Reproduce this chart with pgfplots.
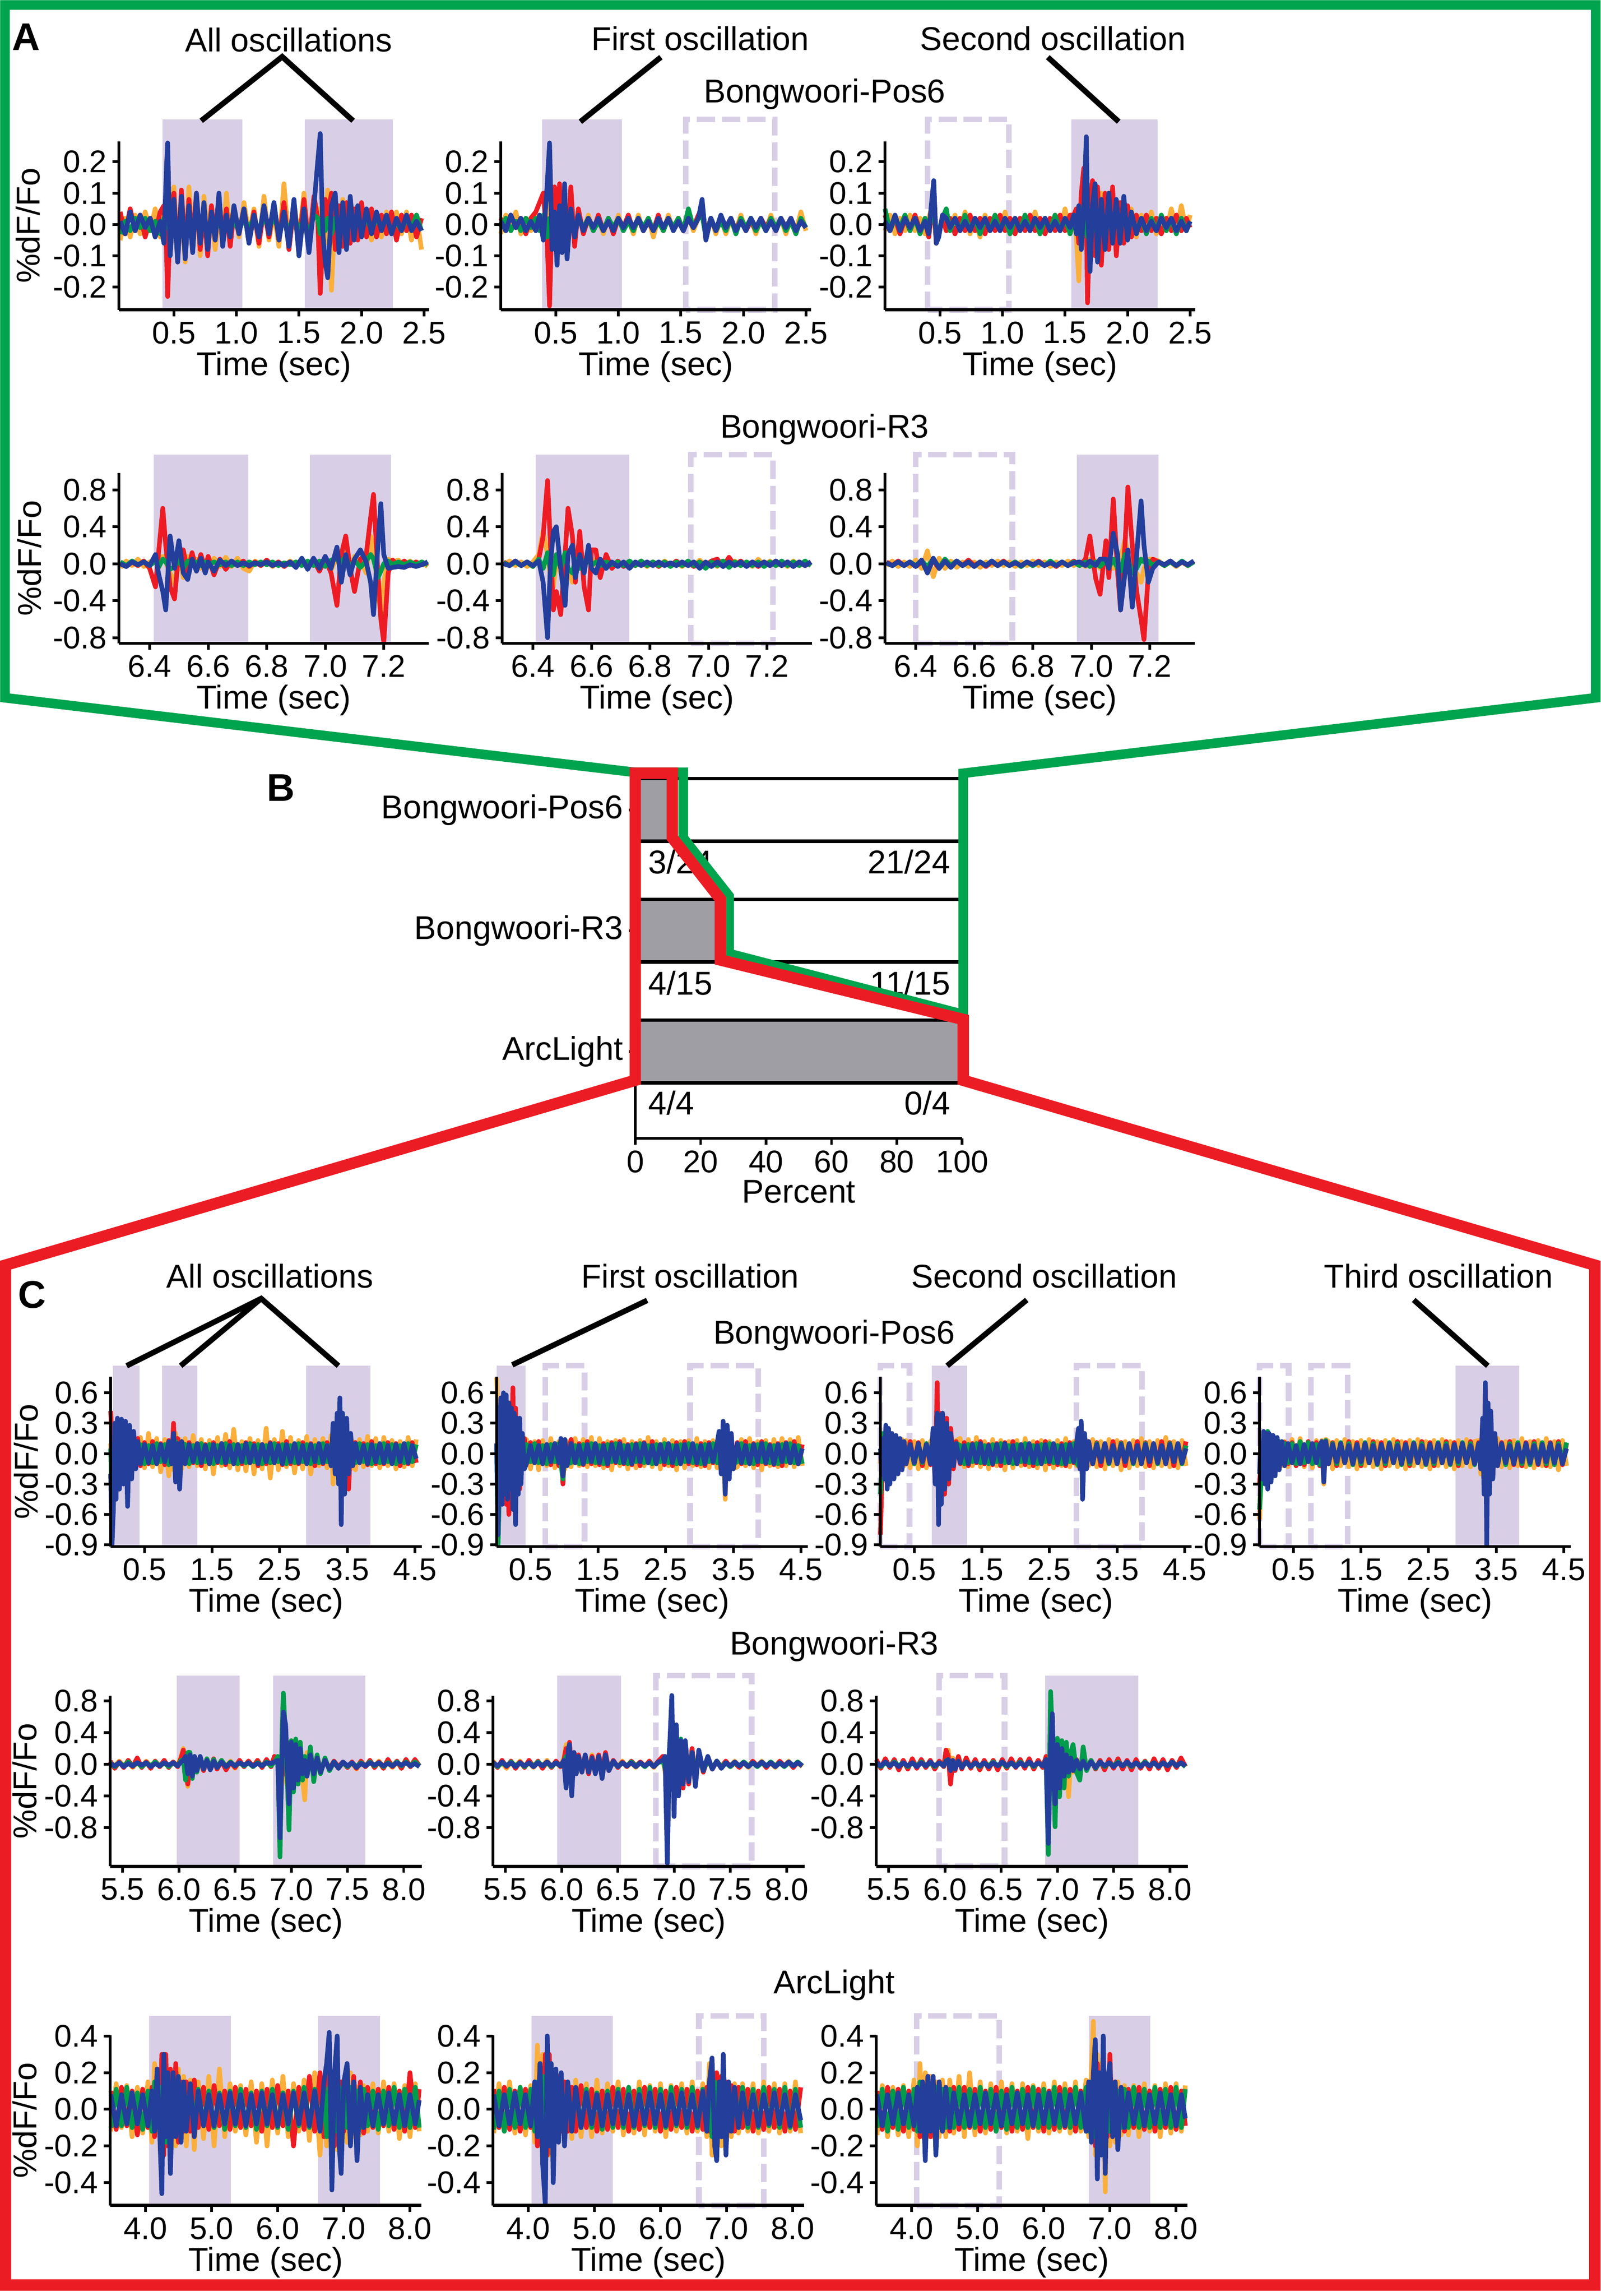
\documentclass[border=0pt]{standalone}
\usepackage{pgfplots}
\pgfplotsset{compat=1.18}
\usepackage{pgfplotstable}
\usepackage{fontspec}
\setmainfont{Liberation Sans}

\definecolor{cR}{RGB}{237,28,36}
\definecolor{cO}{RGB}{250,175,60}
\definecolor{cG}{RGB}{0,155,75}
\definecolor{cB}{RGB}{35,62,155}
\definecolor{shd}{RGB}{216,207,230}
\definecolor{frG}{RGB}{0,163,78}
\definecolor{frR}{RGB}{236,28,36}
\definecolor{barg}{RGB}{158,158,164}

\newcommand\labf{\fontsize{20.5}{23}\selectfont}
\newcommand\tickf{\fontsize{19.5}{22}\selectfont}
\newcommand\panf{\fontsize{24}{26}\selectfont\bfseries}

\pgfplotsset{
  trace/.style={
    scale only axis, axis lines=left,
    axis line style={-, line width=1.9pt},
    tick style={black, line width=1.7pt},
    tick align=outside, major tick length=0.14cm,
    clip=false, axis on top,
    /pgf/number format/assume math mode=true,
    xlabel={Time (sec)},
    tick label style={font=\tickf},
    label style={font=\labf},
    xlabel style={yshift=0.08cm},
    every axis plot/.append style={line width=2.9pt, line join=round, mark=none},
  },
  yl/.style={ylabel={\%dF/Fo}, ylabel style={at={(axis description cs:#1,0.5)}, anchor=center}},
  rowA/.style={trace, width=6.78cm, height=3.68cm,
    xmin=0.06, xmax=2.54, ymin=-0.272, ymax=0.265,
    xtick={0.5,1,1.5,2,2.5}, xticklabels={0.5,1.0,1.5,2.0,2.5},
    ytick={-0.2,-0.1,0,0.1,0.2}, yticklabels={-0.2,-0.1,0.0,0.1,0.2}},
  rowB/.style={trace, width=6.77cm, height=3.72cm,
    xmin=6.295, xmax=7.353, ymin=-0.86, ymax=0.98,
    xtick={6.4,6.6,6.8,7.0,7.2}, xticklabels={6.4,6.6,6.8,7.0,7.2},
    ytick={-0.8,-0.4,0,0.4,0.8}, yticklabels={-0.8,-0.4,0.0,0.4,0.8}},
  rowC/.style={trace, width=6.80cm, height=3.71cm,
    xmin=0, xmax=4.6, ymin=-0.916, ymax=0.758,
    xtick={0.5,1.5,2.5,3.5,4.5}, xticklabels={0.5,1.5,2.5,3.5,4.5},
    ytick={-0.9,-0.6,-0.3,0,0.3,0.6}, yticklabels={-0.9,-0.6,-0.3,0.0,0.3,0.6}},
  rowD/.style={trace, width=6.81cm, height=3.73cm,
    xmin=5.39, xmax=8.16, ymin=-1.29, ymax=0.867,
    xtick={5.5,6,6.5,7,7.5,8}, xticklabels={5.5,6.0,6.5,7.0,7.5,8.0},
    ytick={-0.8,-0.4,0,0.4,0.8}, yticklabels={-0.8,-0.4,0.0,0.4,0.8}},
  rowE/.style={trace, width=6.80cm, height=3.72cm,
    xmin=3.47, xmax=8.17, ymin=-0.524, ymax=0.404,
    xtick={4,5,6,7,8}, xticklabels={4.0,5.0,6.0,7.0,8.0},
    ytick={-0.4,-0.2,0,0.2,0.4}, yticklabels={-0.4,-0.2,0.0,0.2,0.4}},
}

% shaded window, dashed window: x1 x2 ylo yhi
\newcommand\sh[4]{\fill[shd] (axis cs:#1,#3) rectangle (axis cs:#2,#4);}
\newcommand\dsh[4]{\draw[shd, line width=3.5pt, dash pattern=on 0.40cm off 0.15cm] (axis cs:#1,#3) rectangle (axis cs:#2,#4);}
\newcommand\tr[1]{%
  \addplot[cO] table[x=t,y=o]{#1};
  \addplot[cR] table[x=t,y=r]{#1};
  \addplot[cG] table[x=t,y=g]{#1};
  \addplot[cB] table[x=t,y=b]{#1};}

% ---------- panel A, Bongwoori-Pos6 ----------
\pgfplotstableread{
t r o g b
0.07 0.04 -0.05 -0.03 0.01
0.11 -0.03 0.02 0.01 -0.03
0.15 0.05 -0.04 -0.02 0.04
0.19 -0.02 0.03 0.02 -0.02
0.23 0.03 -0.03 -0.01 0.03
0.27 -0.04 0.04 0.02 -0.01
0.31 0.02 -0.02 -0.02 0.02
0.35 -0.03 0.05 0.01 -0.04
0.39 0.04 -0.04 -0.03 0.01
0.42 0.06 0.04 0.02 -0.06
0.44 -0.08 -0.03 -0.01 0.18
0.45 -0.23 0.06 0.04 0.26
0.47 0.02 -0.08 -0.03 -0.10
0.50 0.10 0.12 0.03 0.08
0.53 -0.12 -0.10 -0.04 -0.12
0.56 0.11 0.05 0.02 0.09
0.59 -0.09 -0.12 -0.03 -0.11
0.62 0.08 0.12 0.02 0.06
0.65 -0.06 -0.05 -0.02 -0.09
0.68 0.10 0.08 0.03 0.10
0.71 -0.08 -0.10 -0.02 -0.06
0.74 0.05 0.09 0.02 0.07
0.77 -0.10 -0.04 -0.03 -0.08
0.80 0.06 0.06 0.02 0.04
0.83 -0.05 -0.08 -0.02 -0.05
0.86 0.07 0.04 0.01 0.10
0.89 -0.04 -0.06 -0.02 -0.07
0.92 0.05 0.10 0.02 0.03
0.95 -0.07 -0.05 -0.01 -0.04
0.98 0.04 0.06 0.01 0.06
1.02 -0.03 -0.04 -0.02 -0.03
1.06 0.05 0.07 0.02 0.05
1.10 -0.05 -0.03 -0.01 -0.06
1.14 0.04 0.05 0.02 0.03
1.18 -0.06 -0.07 -0.02 -0.04
1.22 0.05 0.09 0.02 0.06
1.26 -0.04 -0.05 -0.01 -0.03
1.30 0.06 0.04 0.02 0.07
1.34 -0.05 -0.07 -0.02 -0.05
1.38 0.07 0.13 0.02 0.04
1.42 -0.08 -0.06 -0.02 -0.07
1.46 0.06 0.07 0.03 0.08
1.50 -0.06 -0.05 -0.02 -0.10
1.54 0.08 0.10 0.02 0.05
1.58 -0.07 -0.08 -0.03 -0.09
1.62 0.09 0.06 0.03 0.06
1.65 0.02 0.05 0.02 0.20
1.67 -0.22 -0.04 -0.03 0.29
1.69 -0.05 0.03 0.02 -0.02
1.71 0.08 -0.06 -0.02 -0.12
1.73 0.03 0.11 0.02 -0.17
1.76 0.10 -0.21 -0.03 0.06
1.79 -0.08 0.06 0.02 0.10
1.82 0.06 -0.07 -0.02 -0.09
1.85 -0.07 0.08 0.02 0.07
1.88 0.07 -0.06 -0.03 -0.08
1.91 -0.06 0.05 0.02 0.09
1.94 0.05 -0.05 -0.02 -0.05
1.97 -0.05 0.06 0.02 0.06
2.00 0.07 -0.04 -0.01 -0.04
2.04 -0.04 0.04 0.02 0.05
2.08 0.05 -0.05 -0.02 -0.03
2.12 -0.04 0.03 0.02 0.04
2.16 0.03 -0.04 -0.01 -0.02
2.20 -0.03 0.04 0.02 0.03
2.24 0.04 -0.03 -0.02 -0.03
2.28 -0.05 0.04 0.01 0.02
2.32 0.03 -0.03 -0.02 -0.02
2.36 -0.02 0.04 0.02 0.03
2.40 0.03 -0.05 -0.01 -0.02
2.44 -0.04 0.03 0.03 0.01
2.48 0.02 -0.08 -0.02 -0.02
}\dA

\pgfplotstableread{
t r o g b
0.06 0.02 -0.03 -0.01 0.01
0.10 -0.02 0.03 0.02 -0.02
0.14 0.03 -0.02 -0.02 0.03
0.18 -0.01 0.04 0.01 -0.01
0.22 0.02 -0.03 -0.02 0.02
0.26 -0.03 0.02 0.02 -0.02
0.30 0.02 -0.02 -0.01 0.01
0.34 0.04 0.03 0.02 -0.02
0.37 0.07 0.02 -0.02 0.03
0.40 0.10 -0.04 0.03 -0.05
0.43 -0.05 0.09 -0.04 0.12
0.45 -0.26 0.04 0.02 0.26
0.47 0.05 -0.08 -0.03 -0.08
0.49 0.12 0.10 0.03 0.04
0.51 -0.06 -0.06 -0.04 -0.13
0.53 0.13 0.11 0.03 0.06
0.55 -0.08 -0.04 -0.03 -0.09
0.57 0.04 0.07 0.02 0.13
0.59 -0.10 -0.05 -0.02 -0.11
0.62 0.12 0.06 0.02 0.05
0.65 -0.07 -0.03 -0.02 -0.04
0.68 0.05 0.04 0.02 0.03
0.72 -0.03 -0.02 -0.01 -0.02
0.76 0.02 0.03 0.02 0.02
0.80 -0.02 -0.02 -0.02 -0.01
0.84 0.03 0.02 0.01 0.02
0.88 -0.02 -0.03 -0.02 -0.02
0.92 0.02 0.02 0.02 0.01
0.96 -0.03 -0.02 -0.01 -0.02
1.00 0.02 0.03 0.02 0.02
1.04 -0.01 -0.02 -0.02 -0.01
1.08 0.03 0.02 0.01 0.02
1.12 -0.02 -0.03 -0.02 -0.01
1.16 0.02 0.03 0.02 0.02
1.20 -0.02 -0.02 -0.01 -0.02
1.24 0.01 0.02 0.02 0.01
1.28 -0.02 -0.04 -0.02 -0.02
1.32 0.03 0.02 0.01 0.02
1.36 -0.02 -0.02 -0.02 -0.01
1.40 0.02 0.03 0.02 0.02
1.44 -0.01 -0.02 -0.01 -0.02
1.48 0.02 0.02 0.02 0.01
1.52 -0.02 -0.02 -0.02 -0.02
1.56 0.02 0.03 0.05 0.02
1.60 -0.01 -0.02 -0.01 -0.01
1.64 0.03 0.02 0.02 0.02
1.67 0.05 0.04 0.03 0.08
1.70 -0.03 -0.04 -0.04 -0.05
1.74 0.02 0.02 0.02 0.02
1.78 -0.02 -0.03 -0.02 -0.02
1.82 0.02 0.02 0.01 0.03
1.86 -0.01 -0.03 -0.02 -0.01
1.90 0.02 0.02 0.02 0.02
1.94 -0.02 -0.02 -0.03 -0.02
1.98 0.02 0.03 0.02 0.01
2.02 -0.02 -0.02 -0.01 -0.02
2.06 0.01 0.02 0.02 0.02
2.10 -0.02 -0.03 -0.02 -0.01
2.14 0.02 0.02 0.01 0.02
2.18 -0.01 -0.02 -0.02 -0.02
2.22 0.02 0.03 0.02 0.01
2.26 -0.02 -0.02 -0.01 -0.02
2.30 0.02 0.02 0.02 0.02
2.34 -0.01 -0.03 -0.02 -0.01
2.38 0.02 0.02 0.01 0.02
2.42 -0.02 -0.02 -0.03 -0.02
2.46 0.01 0.04 0.02 0.01
2.50 -0.01 -0.02 -0.01 -0.01
}\dB

\pgfplotstableread{
t r o g b
0.06 0.03 -0.02 0.05 0.01
0.10 -0.02 0.03 -0.02 -0.02
0.14 0.02 -0.03 0.02 0.03
0.18 -0.03 0.02 -0.01 -0.02
0.22 0.02 -0.02 0.03 0.02
0.26 -0.02 0.03 -0.02 -0.01
0.30 0.03 -0.02 0.02 0.02
0.34 -0.02 0.02 -0.03 -0.02
0.38 0.01 -0.03 0.02 0.01
0.41 -0.04 0.02 -0.02 -0.03
0.43 0.03 0.05 0.04 0.06
0.45 0.06 0.04 0.05 0.14
0.47 -0.06 -0.05 -0.04 -0.06
0.49 -0.02 -0.03 -0.02 -0.04
0.52 0.02 0.03 0.02 0.03
0.55 -0.02 0.02 0.05 0.02
0.58 0.02 -0.02 -0.02 -0.01
0.62 -0.03 0.03 0.02 0.02
0.66 0.02 -0.02 -0.02 -0.02
0.70 -0.02 0.04 0.03 0.01
0.74 0.03 -0.03 -0.02 -0.02
0.78 -0.02 0.02 0.02 0.02
0.82 0.02 -0.04 -0.03 -0.01
0.86 -0.03 0.03 0.02 0.02
0.90 0.02 -0.02 -0.02 -0.02
0.94 -0.02 0.03 0.03 0.01
0.98 0.03 -0.02 -0.02 -0.02
1.02 -0.02 0.04 0.02 0.02
1.06 0.02 -0.03 -0.03 -0.01
1.10 -0.03 0.02 0.02 0.02
1.14 0.02 -0.02 -0.02 -0.02
1.18 -0.02 0.03 0.03 0.01
1.22 0.03 -0.02 -0.02 -0.02
1.26 -0.02 0.04 0.02 0.02
1.30 0.02 -0.03 -0.03 -0.01
1.34 -0.03 0.02 0.02 0.02
1.38 0.02 -0.02 -0.02 -0.02
1.42 -0.02 0.03 0.03 0.01
1.46 0.03 -0.02 -0.02 -0.02
1.50 -0.02 0.05 0.02 0.02
1.54 0.03 -0.03 -0.03 -0.01
1.57 0.03 0.02 0.02 0.03
1.59 0.05 -0.04 0.03 -0.03
1.61 -0.06 -0.18 -0.03 0.06
1.63 0.10 0.08 0.05 -0.08
1.65 0.18 0.12 0.03 0.05
1.67 0.02 -0.05 -0.02 0.28
1.68 -0.25 -0.10 -0.04 0.05
1.70 0.08 0.10 0.03 -0.15
1.72 0.14 -0.08 -0.02 0.06
1.74 -0.10 0.12 0.04 0.13
1.76 0.12 -0.06 -0.03 -0.12
1.79 -0.13 0.10 0.02 0.08
1.82 0.10 -0.07 -0.04 -0.08
1.85 -0.08 0.08 0.03 0.10
1.88 0.12 -0.05 -0.02 -0.06
1.91 -0.10 0.07 0.03 0.08
1.94 0.07 -0.06 -0.02 -0.06
1.97 -0.06 0.08 0.02 0.09
2.00 0.06 -0.05 -0.02 -0.05
2.03 -0.04 0.05 0.02 0.04
2.07 0.03 -0.04 -0.02 -0.03
2.11 -0.02 0.03 0.02 0.02
2.15 0.03 -0.02 -0.03 -0.02
2.19 -0.02 0.04 0.02 0.01
2.23 0.02 -0.03 -0.02 -0.02
2.27 -0.03 0.02 0.03 0.02
2.31 0.02 -0.02 -0.02 -0.01
2.35 -0.02 0.05 0.02 0.02
2.39 0.03 -0.02 -0.03 -0.02
2.43 -0.02 0.06 0.02 0.01
2.47 0.02 -0.02 -0.02 -0.02
2.50 -0.01 0.03 0.01 0.01
}\dC

% ---------- panel A, Bongwoori-R3 ----------
\pgfplotstableread{
t r o g b
6.30 0.01 -0.04 0.02 0.00
6.32 -0.03 0.03 -0.02 -0.03
6.34 0.02 -0.02 0.03 0.02
6.36 -0.02 0.05 -0.01 -0.01
6.38 0.03 -0.03 0.02 0.02
6.40 -0.05 0.02 -0.02 -0.02
6.42 -0.25 0.04 0.03 0.10
6.43 0.10 -0.05 -0.04 -0.10
6.445 0.60 0.08 0.05 -0.30
6.455 0.20 0.02 0.02 -0.50
6.47 -0.25 -0.10 -0.06 0.30
6.485 -0.38 -0.22 -0.03 -0.05
6.50 0.15 0.10 0.04 0.25
6.515 0.15 -0.15 -0.05 -0.10
6.53 -0.10 0.08 0.03 -0.17
6.545 0.12 -0.02 -0.02 0.05
6.56 -0.08 0.05 0.02 -0.08
6.575 0.10 -0.05 -0.02 0.06
6.59 -0.06 0.03 0.02 -0.10
6.60 0.08 -0.04 -0.02 0.02
6.62 -0.12 0.06 0.02 -0.08
6.64 0.05 -0.03 -0.01 0.04
6.66 -0.06 0.07 0.02 -0.02
6.68 0.03 -0.03 -0.02 0.03
6.70 -0.02 0.06 0.02 -0.02
6.72 0.03 -0.05 -0.02 0.01
6.74 -0.03 -0.08 0.02 -0.02
6.76 0.02 0.03 -0.01 0.01
6.78 -0.02 -0.02 0.02 -0.01
6.80 0.04 0.03 -0.01 0.02
6.82 -0.02 -0.03 0.02 -0.02
6.84 0.02 0.02 -0.02 0.01
6.86 -0.03 -0.02 0.01 -0.02
6.88 0.02 0.03 -0.01 0.02
6.90 -0.02 -0.02 0.02 -0.04
6.92 0.03 0.04 -0.02 0.06
6.94 -0.05 -0.03 0.03 -0.06
6.96 0.04 0.05 -0.02 0.06
6.98 -0.08 -0.04 0.03 -0.05
7.00 0.05 0.06 -0.03 0.08
7.02 -0.10 -0.07 0.04 -0.05
7.04 -0.45 0.08 0.05 0.18
7.055 0.10 -0.10 0.02 -0.20
7.07 0.30 0.12 0.08 0.10
7.085 -0.05 -0.08 -0.05 -0.12
7.10 -0.30 0.08 0.04 0.05
7.12 0.05 0.03 -0.04 0.15
7.14 0.10 -0.10 0.03 0.02
7.155 0.50 0.30 0.10 -0.20
7.165 0.75 0.15 0.05 -0.55
7.18 -0.10 -0.30 -0.15 0.20
7.19 -0.60 -0.55 -0.08 0.65
7.20 -0.85 -0.20 0.00 0.10
7.215 -0.10 0.05 0.03 -0.05
7.23 0.04 0.02 -0.01 -0.04
7.25 -0.02 0.04 0.02 -0.03
7.27 0.03 -0.02 -0.01 -0.04
7.29 -0.02 0.03 0.02 -0.01
7.31 0.02 -0.02 -0.01 -0.03
7.33 -0.01 0.02 0.02 -0.01
7.35 0.01 -0.03 -0.01 0.02
}\dD

\pgfplotstableread{
t r o g b
6.30 0.02 -0.02 0.01 0.00
6.32 -0.02 0.03 -0.02 -0.02
6.34 0.03 -0.02 0.02 0.03
6.36 -0.02 0.02 -0.02 -0.02
6.38 0.02 -0.03 0.02 0.02
6.40 -0.03 0.02 -0.03 -0.02
6.42 0.05 0.10 0.05 0.03
6.435 0.30 0.35 -0.05 -0.20
6.45 0.90 0.10 0.12 -0.80
6.46 0.20 -0.15 -0.08 0.00
6.47 -0.50 -0.25 -0.12 0.35
6.48 -0.30 0.05 0.10 0.40
6.495 -0.55 -0.10 -0.05 -0.05
6.51 0.10 0.10 0.12 -0.45
6.52 0.60 -0.05 -0.05 0.10
6.535 0.30 -0.20 -0.10 0.20
6.545 -0.20 0.15 0.05 -0.15
6.56 0.35 -0.05 -0.05 0.10
6.575 -0.25 0.05 0.03 -0.10
6.59 -0.50 0.10 0.05 0.20
6.60 0.15 -0.05 -0.02 -0.05
6.615 0.15 0.05 0.02 -0.10
6.63 -0.15 -0.03 -0.02 0.05
6.65 0.10 0.03 0.02 -0.05
6.67 -0.05 -0.02 -0.01 0.02
6.69 0.03 0.02 0.02 -0.03
6.71 -0.03 -0.02 -0.02 0.02
6.73 0.02 0.03 0.03 -0.05
6.75 -0.02 -0.02 -0.02 0.02
6.77 0.03 0.02 0.03 -0.02
6.79 -0.02 -0.03 -0.02 0.02
6.81 0.02 0.02 0.02 -0.02
6.83 -0.03 -0.02 -0.02 0.02
6.85 0.02 0.03 0.02 -0.02
6.87 -0.02 -0.02 -0.03 0.01
6.89 0.03 0.02 0.02 -0.02
6.91 -0.02 -0.03 -0.02 0.02
6.93 0.02 0.02 0.03 -0.02
6.95 -0.03 -0.02 -0.02 0.02
6.97 0.02 0.04 0.02 -0.05
6.99 -0.02 -0.02 -0.05 0.02
7.01 0.03 0.02 0.02 -0.03
7.03 0.05 -0.03 -0.02 0.02
7.05 -0.03 0.03 0.03 -0.03
7.07 0.07 -0.02 -0.04 0.02
7.09 -0.02 0.03 0.02 -0.02
7.11 0.03 -0.02 -0.02 0.02
7.13 -0.02 0.02 0.02 -0.03
7.15 0.02 -0.03 -0.02 0.02
7.17 -0.03 0.05 0.02 -0.02
7.19 0.02 -0.02 -0.03 0.02
7.21 -0.02 0.03 0.02 -0.02
7.23 0.03 -0.02 -0.02 0.03
7.25 -0.02 0.02 0.03 -0.02
7.27 0.02 -0.03 -0.02 0.02
7.29 -0.03 0.03 0.02 -0.03
7.31 0.02 -0.02 -0.02 0.02
7.33 -0.02 0.02 0.03 -0.02
7.35 0.02 -0.02 -0.02 0.02
}\dE

\pgfplotstableread{
t r o g b
6.30 0.02 -0.02 0.01 0.01
6.32 -0.02 0.03 -0.02 -0.02
6.34 0.03 -0.03 0.02 0.02
6.36 -0.02 0.02 -0.02 -0.02
6.38 0.02 -0.03 0.02 0.02
6.40 -0.03 0.04 -0.02 -0.03
6.42 0.02 -0.05 0.03 0.04
6.44 -0.04 0.14 -0.03 -0.10
6.46 0.03 -0.14 0.05 0.06
6.48 -0.05 0.06 -0.04 -0.05
6.50 0.04 -0.05 0.05 0.03
6.52 -0.02 0.03 -0.02 -0.04
6.54 0.03 -0.04 0.03 0.03
6.56 -0.02 0.02 -0.02 -0.02
6.58 0.04 -0.03 0.02 0.02
6.60 -0.02 0.02 -0.03 -0.03
6.62 0.02 -0.04 0.02 0.02
6.64 -0.03 0.02 -0.02 -0.02
6.66 0.02 -0.02 0.03 0.03
6.68 -0.02 0.03 -0.02 -0.02
6.70 0.03 -0.02 0.02 0.02
6.72 -0.02 0.02 -0.02 -0.02
6.74 0.02 -0.03 0.02 0.01
6.76 -0.03 0.02 -0.03 -0.02
6.78 0.02 -0.02 0.02 0.02
6.80 -0.02 0.03 -0.02 -0.01
6.82 0.03 -0.02 0.02 0.02
6.84 -0.02 0.02 -0.02 -0.02
6.86 0.02 -0.03 0.03 0.01
6.88 -0.03 0.02 -0.02 -0.02
6.90 0.02 -0.02 0.02 0.02
6.92 -0.02 0.03 -0.02 -0.02
6.94 0.03 -0.02 0.02 0.01
6.96 -0.02 0.02 -0.02 0.02
6.98 0.05 -0.03 0.02 -0.02
6.995 0.30 0.05 -0.03 0.03
7.015 -0.16 0.03 0.02 -0.02
7.03 -0.33 -0.05 -0.03 0.05
7.05 0.25 0.08 0.04 0.05
7.06 -0.15 0.02 -0.04 -0.05
7.075 0.70 -0.05 0.05 0.33
7.09 -0.10 0.10 -0.05 0.10
7.10 -0.50 0.05 -0.08 -0.50
7.115 0.20 0.26 0.10 -0.10
7.125 0.83 0.10 0.05 0.15
7.14 0.20 -0.05 -0.10 -0.47
7.155 -0.30 -0.10 -0.05 0.10
7.17 -0.60 -0.20 0.05 0.68
7.18 -0.82 -0.05 0.02 0.20
7.195 -0.10 0.05 0.03 -0.20
7.21 0.05 0.05 -0.02 -0.05
7.23 0.02 0.03 0.02 0.02
7.25 -0.02 -0.02 -0.02 -0.01
7.27 0.03 0.02 0.02 0.03
7.29 -0.02 -0.03 -0.02 -0.02
7.31 0.02 0.02 0.03 0.02
7.33 -0.02 -0.02 -0.02 -0.01
7.35 0.03 0.03 0.02 0.03
}\dF

% ---------- panel C, Bongwoori-Pos6 ----------
\pgfplotstableread{
t r o g b
0.00 0.42 0.10 0.05 -0.20
0.02 0.15 -0.25 -0.50 -0.90
0.04 -0.10 0.10 -0.30 -0.55
0.06 0.10 -0.10 0.05 0.30
0.08 -0.05 0.05 -0.10 -0.45
0.10 0.15 -0.10 0.12 0.35
0.13 -0.10 0.12 -0.10 -0.35
0.16 0.12 -0.08 0.10 0.34
0.19 -0.08 0.10 -0.08 -0.30
0.22 0.10 -0.12 0.08 0.32
0.25 -0.10 0.08 -0.10 -0.52
0.28 0.08 -0.10 0.10 0.28
0.31 -0.10 0.12 -0.08 -0.25
0.34 0.10 -0.08 0.10 0.22
0.37 -0.08 0.14 -0.10 -0.15
0.40 0.15 -0.10 0.08 0.12
0.44 -0.12 0.16 0.09 -0.10
0.50 0.11 -0.14 -0.10 0.09
0.56 -0.10 0.20 0.08 -0.09
0.62 0.12 -0.13 -0.09 0.08
0.68 -0.09 0.15 0.10 -0.10
0.74 0.10 -0.18 -0.08 0.09
0.80 -0.11 0.14 0.09 -0.08
0.86 0.13 -0.22 -0.11 0.12
0.90 -0.10 0.12 0.08 -0.10
0.93 0.30 -0.16 -0.10 0.20
0.96 -0.25 0.20 0.12 -0.28
0.99 0.15 -0.12 -0.09 0.10
1.02 -0.18 0.14 -0.20 -0.35
1.05 0.12 -0.15 0.10 0.12
1.10 -0.10 0.15 0.09 -0.10
1.16 0.11 -0.13 -0.10 0.09
1.22 -0.09 0.18 0.08 -0.08
1.28 0.10 -0.12 -0.09 0.10
1.34 -0.12 0.14 0.10 -0.09
1.40 0.09 -0.15 -0.08 0.08
1.46 -0.10 0.13 0.09 -0.10
1.52 0.11 -0.20 -0.10 0.09
1.58 -0.09 0.16 0.08 -0.08
1.64 0.10 -0.12 -0.09 0.10
1.70 -0.11 0.19 0.10 -0.09
1.76 0.12 -0.14 -0.08 0.08
1.82 -0.10 0.24 0.09 -0.10
1.88 0.09 -0.16 -0.10 0.09
1.94 -0.10 0.12 0.08 -0.08
2.00 0.11 -0.17 -0.09 0.10
2.06 -0.09 0.15 0.10 -0.09
2.12 0.10 -0.20 -0.08 0.08
2.18 -0.12 0.13 0.09 -0.10
2.24 0.09 -0.15 -0.10 0.09
2.30 -0.10 0.25 0.08 -0.08
2.36 0.11 -0.24 -0.09 0.10
2.42 -0.09 0.14 0.10 -0.09
2.48 0.10 -0.16 -0.08 0.08
2.54 -0.11 0.22 0.09 -0.10
2.60 0.12 -0.13 -0.10 0.09
2.66 -0.10 0.16 0.08 -0.08
2.72 0.09 -0.19 -0.09 0.10
2.78 -0.10 0.13 0.10 -0.09
2.84 0.11 -0.15 -0.08 0.08
2.90 -0.09 0.17 0.09 -0.10
2.96 0.10 -0.20 -0.10 0.09
3.02 -0.12 0.14 0.08 -0.08
3.08 0.09 -0.12 -0.09 0.10
3.14 -0.10 0.15 0.10 -0.09
3.20 0.11 -0.14 -0.08 0.08
3.26 -0.12 0.18 0.09 -0.12
3.29 0.20 -0.30 -0.10 0.30
3.32 -0.18 0.20 0.12 -0.20
3.35 0.15 -0.12 -0.10 0.40
3.37 -0.20 0.10 0.08 -0.30
3.39 0.25 -0.15 -0.12 0.55
3.41 -0.15 0.20 0.10 -0.70
3.43 0.20 -0.10 -0.09 0.40
3.46 -0.18 0.15 0.10 -0.40
3.49 0.30 -0.12 -0.08 0.35
3.52 -0.35 0.14 0.09 -0.20
3.55 0.15 -0.15 -0.10 0.20
3.58 -0.12 0.12 0.08 -0.12
3.62 0.11 -0.16 -0.09 0.10
3.68 -0.09 0.14 0.10 -0.09
3.74 0.10 -0.13 -0.08 0.08
3.80 -0.11 0.17 0.09 -0.10
3.86 0.12 -0.12 -0.10 0.09
3.92 -0.10 0.15 0.08 -0.08
3.98 0.09 -0.14 -0.09 0.10
4.04 -0.10 0.16 0.10 -0.09
4.10 0.11 -0.12 -0.08 0.08
4.16 -0.09 0.13 0.09 -0.10
4.22 0.10 -0.15 -0.10 0.09
4.28 -0.12 0.12 0.08 -0.08
4.34 0.09 -0.13 -0.09 0.10
4.40 -0.10 0.16 0.10 -0.09
4.46 0.11 -0.12 -0.08 0.08
4.52 -0.09 0.14 0.09 -0.05
}\dG

\pgfplotstableread{
t r o g b
0.00 0.10 0.75 0.05 0.10
0.02 -0.20 0.40 -0.90 -0.80
0.04 0.30 -0.30 -0.40 0.20
0.06 -0.40 0.20 0.30 0.55
0.08 0.20 -0.20 -0.30 -0.50
0.10 -0.30 0.30 0.20 0.60
0.12 0.40 -0.35 -0.25 -0.40
0.14 -0.50 0.25 0.20 0.58
0.16 0.45 -0.30 -0.20 -0.45
0.18 -0.60 0.20 0.25 0.50
0.20 0.50 -0.25 -0.20 -0.35
0.22 -0.40 0.25 0.15 0.45
0.24 0.65 -0.20 -0.15 -0.55
0.26 -0.55 0.20 0.15 0.40
0.28 0.45 -0.18 -0.12 -0.70
0.30 -0.30 0.15 0.12 0.35
0.32 0.30 -0.15 -0.10 -0.40
0.34 -0.35 0.12 0.10 0.35
0.36 0.20 -0.12 -0.10 -0.30
0.38 -0.15 0.10 0.08 0.20
0.41 0.15 -0.12 -0.10 -0.15
0.44 -0.10 0.14 0.09 -0.10
0.50 0.11 -0.15 -0.08 0.08
0.56 -0.09 0.12 0.10 -0.09
0.62 0.12 -0.16 -0.09 0.08
0.68 -0.10 0.13 0.08 -0.10
0.74 0.09 -0.12 -0.10 0.09
0.80 -0.11 0.15 0.09 -0.08
0.86 0.10 -0.14 -0.08 0.10
0.92 -0.12 0.12 0.10 -0.09
0.95 0.12 -0.10 -0.10 0.15
0.98 -0.30 0.12 -0.25 -0.22
1.01 0.12 -0.15 0.12 0.14
1.04 -0.10 0.12 -0.10 -0.12
1.10 0.14 -0.13 -0.09 0.10
1.16 -0.09 0.15 0.08 -0.09
1.22 0.10 -0.12 -0.10 0.08
1.28 -0.11 0.14 0.09 -0.10
1.34 0.12 -0.13 -0.08 0.09
1.40 -0.10 0.16 0.10 -0.08
1.46 0.09 -0.12 -0.09 0.10
1.52 -0.11 0.15 0.08 -0.09
1.58 0.10 -0.14 -0.10 0.08
1.64 -0.12 0.12 0.09 -0.10
1.70 0.11 -0.16 -0.08 0.09
1.76 -0.09 0.13 0.10 -0.08
1.82 0.12 -0.12 -0.09 0.10
1.88 -0.10 0.14 0.08 -0.09
1.94 0.09 -0.15 -0.10 0.08
2.00 -0.11 0.12 0.09 -0.10
2.06 0.10 -0.14 -0.08 0.09
2.12 -0.12 0.13 0.10 -0.08
2.18 0.11 -0.12 -0.09 0.10
2.24 -0.09 0.16 0.08 -0.09
2.30 0.12 -0.13 -0.10 0.08
2.36 -0.10 0.12 0.09 -0.10
2.42 0.09 -0.15 -0.08 0.09
2.48 -0.11 0.14 0.10 -0.08
2.54 0.10 -0.12 -0.09 0.10
2.60 -0.12 0.13 0.08 -0.09
2.66 0.11 -0.16 -0.10 0.08
2.72 -0.09 0.12 0.09 -0.10
2.78 0.12 -0.14 -0.08 0.09
2.84 -0.10 0.13 0.10 -0.08
2.90 0.09 -0.12 -0.09 0.10
2.96 -0.11 0.15 0.08 -0.09
3.02 0.10 -0.13 -0.10 0.08
3.08 -0.12 0.12 0.09 -0.10
3.14 0.11 -0.14 -0.08 0.09
3.20 -0.09 0.13 0.10 -0.08
3.26 0.10 -0.14 -0.09 0.10
3.29 0.14 0.12 0.10 0.22
3.32 -0.15 -0.18 -0.12 -0.20
3.35 0.18 0.14 0.10 0.32
3.38 -0.20 -0.45 -0.15 -0.40
3.41 0.20 0.15 0.12 0.28
3.44 -0.15 -0.12 -0.10 -0.25
3.47 0.18 0.14 0.09 0.20
3.50 -0.12 -0.15 -0.10 -0.15
3.56 0.11 -0.13 -0.08 0.10
3.62 -0.10 0.14 0.10 -0.09
3.68 0.12 -0.12 -0.09 0.08
3.74 -0.09 0.15 0.08 -0.10
3.80 0.10 -0.14 -0.10 0.09
3.86 -0.11 0.12 0.09 -0.08
3.92 0.12 -0.16 -0.08 0.10
3.98 -0.10 0.13 0.10 -0.09
4.04 0.09 -0.12 -0.09 0.08
4.10 -0.11 0.14 0.08 -0.10
4.16 0.10 -0.13 -0.10 0.09
4.22 -0.12 0.15 0.09 -0.08
4.28 0.11 -0.12 -0.08 0.10
4.34 -0.09 0.14 0.10 -0.09
4.40 0.12 -0.13 -0.09 0.08
4.46 -0.10 0.16 0.08 -0.10
4.52 0.09 -0.12 -0.10 0.05
}\dH

\pgfplotstableread{
t r o g b
0.00 -0.80 -0.10 -0.40 0.05
0.02 -0.30 0.10 -0.10 -0.20
0.04 0.10 -0.05 0.20 0.15
0.06 -0.10 0.20 -0.10 -0.25
0.08 0.20 -0.10 0.25 0.28
0.10 -0.15 0.15 -0.15 -0.35
0.12 0.15 -0.12 0.20 0.25
0.14 -0.20 0.12 -0.15 -0.30
0.17 0.18 -0.10 0.15 0.20
0.20 -0.15 0.10 -0.12 -0.25
0.23 0.14 -0.12 0.12 0.18
0.26 -0.12 0.15 -0.10 -0.20
0.29 0.12 -0.12 0.10 0.15
0.32 -0.12 0.14 -0.10 -0.16
0.35 0.11 -0.12 0.09 0.12
0.38 -0.10 0.13 -0.08 -0.10
0.44 0.12 -0.14 0.09 0.09
0.50 -0.10 0.12 -0.10 -0.09
0.56 0.11 -0.15 0.08 0.10
0.62 -0.12 0.13 -0.09 -0.08
0.68 0.10 -0.14 0.10 0.09
0.74 -0.11 0.12 -0.08 -0.10
0.78 0.20 0.15 0.12 0.25
0.81 -0.25 -0.18 -0.15 -0.30
0.84 0.70 0.20 0.15 0.40
0.86 -0.30 -0.25 -0.20 -0.70
0.88 0.40 0.25 0.12 0.38
0.90 -0.35 -0.20 -0.15 -0.50
0.92 0.30 0.15 0.10 0.40
0.95 -0.40 -0.20 -0.12 -0.35
0.98 0.35 0.15 0.10 0.30
1.01 -0.30 -0.15 -0.12 -0.25
1.04 0.25 0.12 0.10 0.20
1.08 -0.15 -0.14 -0.09 -0.12
1.12 0.12 0.13 0.10 0.10
1.18 -0.10 0.15 0.08 -0.09
1.24 0.11 -0.13 -0.10 0.08
1.30 -0.12 0.14 0.09 -0.10
1.36 0.10 -0.12 -0.08 0.09
1.42 -0.09 0.16 0.10 -0.08
1.48 0.12 -0.13 -0.09 0.10
1.54 -0.10 0.12 0.08 -0.09
1.60 0.09 -0.15 -0.10 0.08
1.66 -0.11 0.14 0.09 -0.10
1.72 0.10 -0.12 -0.08 0.09
1.78 -0.12 0.13 0.10 -0.08
1.84 0.11 -0.16 -0.09 0.10
1.90 -0.09 0.12 0.08 -0.09
1.96 0.12 -0.14 -0.10 0.08
2.02 -0.10 0.13 0.09 -0.10
2.08 0.09 -0.12 -0.08 0.09
2.14 -0.11 0.15 0.10 -0.08
2.20 0.10 -0.13 -0.09 0.10
2.26 -0.12 0.12 0.08 -0.09
2.32 0.11 -0.14 -0.10 0.08
2.38 -0.09 0.13 0.09 -0.10
2.44 0.12 -0.16 -0.08 0.09
2.50 -0.10 0.12 0.10 -0.08
2.56 0.09 -0.14 -0.09 0.10
2.62 -0.11 0.13 0.08 -0.09
2.68 0.10 -0.12 -0.10 0.08
2.74 -0.12 0.15 0.09 -0.10
2.80 0.11 -0.13 -0.08 0.09
2.86 -0.09 0.12 0.10 -0.08
2.90 0.10 -0.12 -0.09 0.10
2.93 0.15 -0.12 -0.12 0.25
2.95 -0.12 0.14 0.10 -0.15
2.97 0.20 -0.15 -0.15 0.32
2.99 -0.20 0.15 -0.18 -0.45
3.02 0.15 -0.12 0.10 0.20
3.05 -0.12 0.13 -0.10 -0.15
3.08 0.12 -0.12 0.09 0.12
3.14 -0.10 0.14 -0.09 -0.10
3.20 0.11 -0.13 0.10 0.09
3.26 -0.12 0.12 -0.08 -0.08
3.32 0.10 -0.15 0.09 0.10
3.38 -0.09 0.14 -0.10 -0.09
3.44 0.12 -0.12 0.08 0.08
3.50 -0.10 0.13 -0.09 -0.10
3.56 0.11 -0.16 0.10 0.09
3.62 -0.12 0.12 -0.08 -0.08
3.68 0.10 -0.14 0.09 0.10
3.74 -0.09 0.13 -0.10 -0.09
3.80 0.12 -0.12 0.08 0.08
3.86 -0.10 0.15 -0.09 -0.10
3.92 0.11 -0.13 0.10 0.09
3.98 -0.12 0.12 -0.08 -0.08
4.04 0.10 -0.14 0.09 0.10
4.10 -0.09 0.13 -0.10 -0.09
4.16 0.12 -0.12 0.08 0.08
4.22 -0.10 0.16 -0.09 -0.10
4.28 0.11 -0.13 0.10 0.09
4.34 -0.12 0.12 -0.08 -0.08
4.40 0.10 -0.14 0.09 0.10
4.46 -0.09 0.13 -0.10 -0.09
4.52 0.12 -0.12 0.08 0.05
}\dI

\pgfplotstableread{
t r o g b
0.00 -0.30 -0.65 -0.55 -0.20
0.02 -0.10 -0.20 -0.30 0.10
0.04 0.10 0.10 0.10 -0.25
0.06 -0.10 -0.10 -0.10 0.22
0.08 0.15 0.15 0.20 -0.30
0.10 -0.12 -0.12 -0.10 0.20
0.12 0.18 0.12 0.22 -0.35
0.14 -0.12 -0.14 -0.10 0.20
0.17 0.15 0.12 0.18 -0.28
0.20 -0.12 -0.12 -0.10 0.18
0.23 0.12 0.12 0.14 -0.22
0.26 -0.12 -0.12 -0.10 0.16
0.29 0.12 0.12 0.12 -0.16
0.33 -0.10 -0.12 -0.09 0.12
0.37 0.11 0.12 0.10 -0.12
0.42 -0.10 -0.13 -0.09 0.10
0.48 0.11 0.14 0.10 -0.09
0.54 -0.12 -0.12 -0.10 0.08
0.60 0.10 0.15 0.12 -0.10
0.66 -0.11 -0.13 -0.09 0.09
0.72 0.12 0.12 0.11 -0.08
0.78 -0.10 -0.14 -0.10 0.10
0.84 0.11 0.13 0.09 -0.09
0.89 -0.12 -0.12 -0.11 0.08
0.92 0.11 0.13 0.12 0.12
0.95 -0.15 -0.30 -0.14 -0.28
0.98 0.12 0.14 0.13 0.12
1.02 -0.10 0.12 -0.09 -0.10
1.08 0.11 -0.15 0.10 0.09
1.14 -0.12 0.13 -0.10 -0.08
1.20 0.10 -0.12 0.11 0.10
1.26 -0.09 0.14 -0.09 -0.09
1.32 0.12 -0.13 0.10 0.08
1.38 -0.10 0.12 -0.11 -0.10
1.44 0.11 -0.15 0.09 0.09
1.50 -0.12 0.13 -0.10 -0.08
1.56 0.10 -0.12 0.11 0.10
1.62 -0.09 0.14 -0.09 -0.09
1.68 0.12 -0.13 0.10 0.08
1.74 -0.10 0.12 -0.11 -0.10
1.80 0.11 -0.15 0.09 0.09
1.86 -0.12 0.13 -0.10 -0.08
1.92 0.10 -0.12 0.11 0.10
1.98 -0.09 0.14 -0.09 -0.09
2.04 0.12 -0.13 0.10 0.08
2.10 -0.10 0.12 -0.11 -0.10
2.16 0.11 -0.15 0.09 0.09
2.22 -0.12 0.13 -0.10 -0.08
2.28 0.10 -0.12 0.11 0.10
2.34 -0.09 0.14 -0.09 -0.09
2.40 0.12 -0.13 0.10 0.08
2.46 -0.10 0.12 -0.11 -0.10
2.52 0.11 -0.15 0.09 0.09
2.58 -0.12 0.13 -0.10 -0.08
2.64 0.10 -0.12 0.11 0.10
2.70 -0.09 0.14 -0.09 -0.09
2.76 0.12 -0.13 0.10 0.08
2.82 -0.10 0.12 -0.11 -0.10
2.88 0.11 -0.15 0.09 0.09
2.94 -0.12 0.13 -0.10 -0.08
3.00 0.10 -0.12 0.11 0.10
3.06 -0.09 0.14 -0.09 -0.09
3.12 0.12 -0.13 0.10 0.08
3.18 -0.10 0.12 -0.11 -0.10
3.24 0.11 0.13 0.10 0.10
3.27 -0.14 -0.20 -0.12 -0.15
3.30 0.30 0.25 0.15 0.35
3.32 -0.25 -0.30 -0.20 -0.40
3.34 0.65 0.40 0.20 0.70
3.36 -0.40 -0.45 -0.25 -0.90
3.38 0.45 0.30 0.20 0.50
3.40 -0.30 -0.25 -0.15 -0.40
3.42 0.25 0.20 0.15 0.42
3.45 -0.20 -0.20 -0.12 -0.25
3.48 0.18 0.15 0.10 0.20
3.52 -0.12 0.15 -0.10 -0.12
3.58 0.11 -0.13 0.09 0.10
3.64 -0.10 0.12 -0.11 -0.09
3.70 0.12 -0.14 0.10 0.08
3.76 -0.11 0.13 -0.09 -0.10
3.82 0.10 -0.12 0.11 0.09
3.88 -0.12 0.15 -0.10 -0.08
3.94 0.11 -0.13 0.09 0.10
4.00 -0.10 0.12 -0.11 -0.09
4.06 0.12 -0.14 0.10 0.08
4.12 -0.11 0.13 -0.09 -0.10
4.18 0.10 -0.12 0.11 0.09
4.24 -0.12 0.15 -0.10 -0.08
4.30 0.11 -0.13 0.09 0.10
4.36 -0.10 0.12 -0.11 -0.09
4.42 0.12 -0.16 0.10 0.08
4.48 -0.11 0.13 -0.09 -0.10
4.54 0.10 -0.12 0.11 0.05
}\dJ

% ---------- panel C, Bongwoori-R3 ----------
\pgfplotstableread{
t r o g b
5.39 0.04 0.03 0.02 0.01
5.43 -0.05 -0.02 -0.03 -0.02
5.47 0.03 0.04 0.02 0.02
5.51 -0.04 -0.02 -0.02 -0.03
5.55 0.05 0.03 0.03 0.01
5.59 -0.03 -0.04 -0.02 -0.02
5.63 0.08 0.02 0.02 0.02
5.67 -0.04 -0.03 -0.03 -0.01
5.71 0.03 0.04 0.02 0.02
5.75 -0.05 -0.02 -0.02 -0.03
5.79 0.04 0.03 0.03 0.01
5.83 -0.03 -0.03 -0.02 -0.02
5.87 0.05 0.02 0.02 0.02
5.91 -0.04 -0.03 -0.03 -0.01
5.95 0.03 0.03 0.02 0.02
5.99 -0.03 -0.02 -0.02 -0.02
6.02 0.08 0.10 0.05 0.03
6.04 0.18 0.20 0.06 0.05
6.06 -0.10 -0.10 -0.20 0.10
6.08 -0.25 -0.28 0.15 -0.12
6.10 0.05 0.08 0.15 0.12
6.12 -0.05 -0.05 -0.18 -0.15
6.14 0.08 0.10 0.10 0.10
6.16 -0.06 -0.05 -0.10 -0.08
6.19 0.05 0.07 0.08 0.10
6.22 -0.08 -0.04 -0.06 -0.06
6.25 0.06 0.05 0.07 0.05
6.28 -0.05 -0.06 -0.05 -0.07
6.31 0.07 0.04 0.06 0.04
6.34 -0.06 -0.05 -0.04 -0.04
6.38 0.04 0.05 0.05 0.03
6.42 -0.07 -0.03 -0.03 -0.03
6.46 0.03 0.04 0.03 0.02
6.50 -0.04 -0.05 -0.02 -0.02
6.54 0.05 0.03 0.02 0.02
6.58 -0.03 -0.02 -0.02 -0.01
6.62 0.04 0.04 0.02 0.02
6.66 -0.03 -0.02 -0.03 -0.02
6.70 0.05 0.03 0.02 0.01
6.74 -0.04 -0.03 -0.02 -0.02
6.78 0.06 0.03 0.03 0.02
6.82 -0.03 -0.02 -0.02 0.01
6.85 0.10 0.05 0.03 0.03
6.88 0.05 0.06 0.10 0.05
6.90 -0.20 -0.40 -1.17 -0.93
6.92 0.20 0.30 0.50 0.20
6.93 0.30 0.20 0.90 0.66
6.95 -0.10 -0.20 0.30 0.50
6.97 -0.20 -0.30 -0.40 -0.20
6.98 -0.30 -0.40 -0.83 -0.50
7.00 0.25 0.30 0.30 0.28
7.02 -0.20 -0.25 -0.35 -0.30
7.04 0.30 0.25 0.32 0.25
7.06 -0.20 -0.20 -0.25 -0.20
7.08 0.15 0.28 0.28 0.20
7.10 -0.10 -0.20 -0.20 -0.12
7.12 0.05 -0.45 0.10 0.05
7.14 -0.10 0.15 -0.15 -0.15
7.17 0.15 0.10 0.22 0.12
7.20 -0.12 -0.10 -0.22 -0.12
7.23 0.10 0.06 0.12 0.08
7.26 -0.08 -0.08 -0.12 -0.10
7.30 0.06 0.05 0.08 0.05
7.34 -0.06 -0.05 -0.08 -0.06
7.38 0.04 0.03 0.03 0.03
7.42 -0.03 -0.05 -0.04 -0.05
7.46 0.03 0.02 0.02 0.03
7.50 -0.04 -0.03 -0.03 -0.02
7.54 0.03 0.02 0.02 0.02
7.58 -0.05 -0.06 -0.03 -0.04
7.62 0.04 0.02 0.02 0.01
7.66 -0.03 -0.03 -0.02 -0.02
7.70 0.05 0.03 0.03 0.02
7.74 -0.04 -0.02 -0.02 -0.01
7.78 0.03 0.04 0.02 0.02
7.82 -0.05 -0.03 -0.03 -0.02
7.86 0.06 0.02 0.02 0.01
7.90 -0.03 -0.04 -0.02 -0.02
7.94 0.04 0.03 0.03 0.02
7.98 -0.05 -0.02 -0.02 -0.01
8.02 0.06 0.05 0.03 0.02
8.06 -0.03 -0.03 -0.02 -0.02
8.10 0.06 0.03 0.03 0.01
8.14 -0.02 -0.02 -0.02 -0.03
}\dK

\pgfplotstableread{
t r o g b
5.39 0.03 0.04 0.02 0.02
5.43 -0.04 -0.03 -0.03 -0.02
5.47 0.05 0.02 0.02 0.03
5.51 -0.03 -0.05 -0.02 -0.02
5.55 0.04 0.03 0.03 0.02
5.59 -0.05 -0.02 -0.02 -0.03
5.63 0.03 0.04 0.02 0.02
5.67 -0.04 -0.03 -0.03 -0.02
5.71 0.05 0.02 0.02 0.02
5.75 -0.03 -0.04 -0.02 -0.03
5.79 0.04 0.03 0.03 0.02
5.83 -0.05 -0.02 -0.02 -0.02
5.87 0.03 0.05 0.02 0.03
5.91 -0.04 -0.03 -0.03 -0.02
5.95 0.04 0.02 0.02 0.02
5.99 -0.03 -0.03 -0.02 -0.02
6.02 0.05 0.08 0.03 0.05
6.04 0.20 0.25 0.10 -0.30
6.06 -0.10 -0.10 -0.05 0.20
6.07 0.28 0.15 0.10 0.25
6.09 -0.15 -0.12 -0.10 -0.40
6.11 0.15 0.10 0.08 0.15
6.13 -0.10 -0.12 -0.08 -0.12
6.15 0.12 0.10 0.08 0.10
6.18 -0.08 -0.10 -0.06 -0.10
6.21 0.10 0.08 0.08 0.12
6.24 -0.12 -0.08 -0.06 -0.10
6.27 0.10 0.12 0.05 0.08
6.30 -0.08 -0.10 -0.05 -0.12
6.33 0.12 0.08 0.06 0.10
6.36 -0.10 -0.12 -0.05 -0.18
6.39 0.15 0.06 0.05 0.12
6.42 -0.08 -0.06 -0.04 -0.08
6.46 0.05 0.04 0.03 0.04
6.50 -0.04 -0.03 -0.03 -0.03
6.54 0.03 0.04 0.02 0.02
6.58 -0.03 -0.03 -0.02 -0.02
6.62 0.04 0.02 0.03 0.02
6.66 -0.02 -0.04 -0.02 -0.03
6.70 0.03 0.03 0.02 0.02
6.74 -0.03 -0.02 -0.03 -0.02
6.78 0.04 0.03 0.02 0.02
6.82 -0.03 -0.04 -0.02 -0.03
6.86 0.04 0.03 0.02 0.03
6.90 0.10 0.08 0.05 0.05
6.92 -0.05 -0.10 -0.05 0.10
6.94 -0.20 -0.20 -0.20 -1.25
6.96 0.20 0.15 0.20 0.20
6.98 0.30 0.20 0.30 0.87
7.00 -0.25 -0.20 -0.30 -0.66
7.02 0.30 0.25 0.25 0.50
7.04 -0.35 -0.30 -0.30 -0.40
7.06 0.25 0.30 0.32 0.30
7.08 -0.30 -0.20 -0.20 -0.25
7.10 0.20 0.25 0.20 0.30
7.13 -0.25 -0.20 -0.15 -0.22
7.16 0.20 0.18 0.15 0.15
7.19 -0.15 -0.15 -0.12 -0.28
7.22 0.12 0.10 0.10 0.18
7.26 -0.10 -0.08 -0.08 -0.08
7.30 0.08 0.06 0.06 0.10
7.34 -0.06 -0.05 -0.05 -0.06
7.38 0.04 0.04 0.04 0.04
7.42 -0.03 -0.04 -0.03 -0.05
7.46 0.04 0.03 0.02 0.02
7.50 -0.03 -0.02 -0.03 -0.02
7.54 0.02 0.04 0.02 0.03
7.58 -0.04 -0.03 -0.02 -0.02
7.62 0.03 0.02 0.03 0.02
7.66 -0.03 -0.04 -0.02 -0.03
7.70 0.04 0.03 0.02 0.02
7.74 -0.02 -0.02 -0.03 -0.02
7.78 0.03 0.04 0.02 0.03
7.82 -0.04 -0.03 -0.02 -0.02
7.86 0.03 0.02 0.03 0.02
7.90 -0.03 -0.04 -0.02 -0.03
7.94 0.04 0.03 0.02 0.02
7.98 -0.02 -0.02 -0.03 -0.02
8.02 0.03 0.04 0.02 0.03
8.06 -0.04 -0.03 -0.02 -0.02
8.10 0.03 0.02 0.03 0.02
8.14 -0.02 -0.03 -0.02 -0.02
}\dL

\pgfplotstableread{
t r o g b
5.39 0.06 0.03 0.02 0.02
5.43 -0.05 -0.03 -0.03 -0.02
5.47 0.07 0.04 0.02 0.03
5.51 -0.04 -0.02 -0.02 -0.02
5.55 0.06 0.03 0.03 0.02
5.59 -0.07 -0.04 -0.02 -0.03
5.63 0.05 0.02 0.02 0.02
5.67 -0.06 -0.03 -0.03 -0.02
5.71 0.07 0.04 0.02 0.02
5.75 -0.05 -0.02 -0.02 -0.03
5.79 0.06 0.03 0.03 0.02
5.83 -0.04 -0.03 -0.02 -0.02
5.87 0.05 0.02 0.02 0.03
5.91 -0.06 -0.03 -0.03 -0.02
5.95 0.04 0.04 0.02 0.02
5.99 -0.03 -0.02 -0.02 -0.02
6.01 0.18 0.10 0.05 0.04
6.03 0.10 0.18 0.04 0.06
6.05 -0.25 -0.10 -0.05 -0.08
6.07 0.05 0.08 0.04 0.05
6.09 -0.08 -0.05 -0.03 -0.06
6.12 0.10 0.06 0.04 0.04
6.15 -0.06 -0.04 -0.03 -0.04
6.19 0.08 0.04 0.03 0.03
6.23 -0.05 -0.04 -0.03 -0.03
6.27 0.06 0.03 0.02 0.02
6.31 -0.07 -0.03 -0.03 -0.02
6.35 0.05 0.04 0.02 0.02
6.39 -0.06 -0.02 -0.02 -0.03
6.43 0.05 0.03 0.03 0.02
6.47 -0.07 -0.03 -0.02 -0.02
6.51 0.06 0.02 0.02 0.03
6.55 -0.05 -0.04 -0.03 -0.02
6.59 0.07 0.03 0.02 0.02
6.63 -0.04 -0.02 -0.02 -0.03
6.67 0.06 0.03 0.03 0.02
6.71 -0.05 -0.03 -0.02 -0.02
6.75 0.07 0.02 0.02 0.03
6.79 -0.06 -0.03 -0.03 -0.02
6.83 0.05 0.04 0.02 0.02
6.87 -0.04 -0.02 -0.02 -0.02
6.90 0.10 0.08 0.05 0.06
6.92 -0.30 -0.30 -1.14 -1.00
6.94 0.30 0.25 0.92 0.20
6.955 0.20 0.20 0.40 0.64
6.97 -0.20 -0.20 -0.30 -0.20
6.98 -0.25 -0.30 -0.79 -0.50
7.00 0.20 0.25 0.33 0.25
7.02 -0.20 -0.20 -0.41 -0.30
7.04 0.15 0.20 0.30 0.20
7.06 -0.15 -0.15 -0.30 -0.15
7.08 0.12 0.10 0.28 0.12
7.10 -0.10 -0.41 -0.15 -0.10
7.12 0.10 0.10 0.15 0.08
7.14 -0.08 -0.10 0.25 -0.08
7.17 0.06 0.06 -0.10 0.05
7.20 -0.05 -0.05 -0.20 -0.06
7.23 0.05 0.04 0.22 0.04
7.26 -0.06 -0.04 -0.08 -0.05
7.30 0.05 0.03 0.05 0.03
7.34 -0.06 -0.04 -0.05 -0.04
7.38 0.05 0.03 0.03 0.03
7.42 -0.07 -0.03 -0.03 -0.02
7.46 0.06 0.02 0.02 0.02
7.50 -0.05 -0.04 -0.02 -0.03
7.54 0.07 0.03 0.03 0.02
7.58 -0.06 -0.03 -0.02 -0.02
7.62 0.05 0.02 0.02 0.03
7.66 -0.07 -0.04 -0.03 -0.02
7.70 0.06 0.03 0.02 0.02
7.74 -0.05 -0.02 -0.02 -0.03
7.78 0.04 0.03 0.03 0.02
7.82 -0.06 -0.03 -0.02 -0.02
7.86 0.07 0.04 0.02 0.02
7.90 -0.05 -0.02 -0.03 -0.03
7.94 0.06 0.03 0.02 0.02
7.98 -0.07 -0.03 -0.02 -0.02
8.02 0.05 0.04 0.03 0.03
8.06 -0.04 -0.02 -0.02 -0.02
8.10 0.08 0.03 0.02 0.02
8.14 -0.03 -0.03 -0.03 -0.02
}\dM

% ---------- panel C, ArcLight ----------
\pgfplotstableread{
t r o g b
3.48 0.10 -0.12 -0.10 0.08
3.56 -0.11 0.14 0.11 -0.09
3.64 0.12 -0.10 -0.09 0.08
3.72 -0.09 0.13 0.12 -0.08
3.80 0.10 -0.15 -0.10 0.09
3.88 -0.14 0.12 0.09 -0.08
3.96 0.11 -0.13 -0.11 0.08
4.04 -0.10 0.15 0.10 -0.09
4.10 0.12 -0.18 -0.12 0.10
4.14 -0.15 0.25 0.15 -0.12
4.18 0.22 -0.12 -0.10 0.22
4.22 -0.10 0.20 0.12 -0.15
4.25 0.30 -0.15 -0.12 -0.46
4.28 -0.25 0.18 0.15 0.30
4.31 0.30 -0.20 -0.18 -0.15
4.34 -0.20 0.15 0.12 0.20
4.38 0.22 -0.18 -0.15 -0.35
4.42 -0.15 0.20 0.13 0.20
4.46 0.25 -0.20 -0.12 -0.15
4.50 -0.18 0.22 0.10 0.18
4.54 0.15 -0.15 -0.12 -0.18
4.58 -0.12 0.18 0.12 0.15
4.62 0.15 -0.20 -0.10 -0.12
4.68 -0.12 0.16 0.12 0.14
4.74 0.16 -0.22 -0.10 -0.15
4.80 -0.10 0.15 0.11 0.10
4.88 0.12 -0.16 -0.09 -0.09
4.96 -0.11 0.18 0.10 0.08
5.04 0.13 -0.20 -0.10 -0.09
5.12 -0.09 0.22 0.09 0.08
5.20 0.10 -0.15 -0.11 -0.08
5.28 -0.11 0.14 0.10 0.09
5.36 0.12 -0.12 -0.09 -0.08
5.44 -0.10 0.13 0.11 0.08
5.52 0.11 -0.14 -0.10 -0.09
5.60 -0.09 0.15 0.09 0.08
5.68 0.10 -0.18 -0.11 -0.08
5.76 -0.12 0.14 0.10 0.09
5.84 0.11 -0.20 -0.09 -0.08
5.92 -0.10 0.16 0.11 0.08
6.00 0.13 -0.13 -0.10 -0.09
6.08 -0.09 0.18 0.09 0.08
6.16 0.10 -0.15 -0.11 -0.08
6.24 -0.20 0.14 0.10 0.09
6.32 0.12 -0.12 -0.09 -0.08
6.40 -0.11 0.16 0.12 0.09
6.48 0.18 -0.17 -0.10 -0.09
6.56 -0.12 0.20 0.11 0.10
6.64 0.20 -0.25 -0.12 -0.12
6.70 -0.15 0.15 0.12 0.15
6.74 0.20 -0.20 -0.15 0.25
6.78 -0.15 0.15 0.12 0.42
6.82 0.15 -0.20 -0.15 -0.44
6.86 -0.20 0.18 0.15 0.20
6.90 0.25 -0.22 -0.12 0.40
6.93 -0.18 0.15 0.12 -0.20
6.96 0.15 -0.20 -0.10 -0.35
7.00 -0.12 0.15 0.12 0.15
7.05 0.20 -0.18 -0.10 0.25
7.10 -0.15 0.20 0.12 -0.20
7.15 0.18 -0.15 -0.10 0.15
7.20 -0.12 0.12 0.10 -0.28
7.25 0.15 -0.14 -0.10 0.12
7.30 -0.13 0.13 0.11 -0.10
7.36 0.12 -0.12 -0.09 0.08
7.44 -0.10 0.14 0.10 -0.09
7.52 0.11 -0.13 -0.11 0.08
7.60 -0.09 0.15 0.10 -0.08
7.68 0.12 -0.12 -0.09 0.09
7.76 -0.11 0.14 0.12 -0.08
7.84 0.10 -0.16 -0.10 0.08
7.92 -0.12 0.13 0.11 -0.09
8.00 0.20 -0.15 -0.10 0.08
8.08 -0.10 0.14 0.12 -0.08
8.14 0.11 -0.12 -0.10 0.05
}\dN

\pgfplotstableread{
t r o g b
3.48 0.11 -0.13 -0.11 0.08
3.56 -0.10 0.14 0.10 -0.09
3.64 0.12 -0.12 -0.12 0.08
3.72 -0.11 0.15 0.11 -0.08
3.80 0.10 -0.13 -0.10 0.09
3.88 -0.12 0.12 0.12 -0.08
3.96 0.11 -0.14 -0.10 0.08
4.04 -0.10 0.13 0.11 -0.09
4.10 0.15 -0.18 -0.12 0.15
4.14 -0.20 0.35 0.15 -0.15
4.18 0.25 -0.20 -0.15 0.25
4.22 -0.20 0.30 0.18 -0.30
4.26 0.30 -0.20 -0.15 -0.52
4.29 -0.25 0.30 0.20 0.40
4.32 0.30 -0.25 -0.15 -0.20
4.35 -0.20 0.25 0.12 0.25
4.38 0.20 -0.18 -0.12 -0.40
4.42 -0.15 0.20 0.12 0.22
4.46 0.18 -0.15 -0.10 -0.18
4.50 -0.12 0.18 0.12 0.20
4.55 0.15 -0.15 -0.10 -0.20
4.60 -0.12 0.15 0.12 0.15
4.66 0.12 -0.16 -0.10 -0.12
4.72 -0.12 0.16 0.11 0.12
4.80 0.13 -0.15 -0.10 -0.10
4.88 -0.10 0.14 0.11 0.09
4.96 0.11 -0.15 -0.10 -0.08
5.04 -0.12 0.16 0.09 0.08
5.12 0.10 -0.13 -0.11 -0.09
5.20 -0.11 0.14 0.10 0.08
5.28 0.12 -0.12 -0.10 -0.08
5.36 -0.10 0.15 0.11 0.09
5.44 0.11 -0.14 -0.10 -0.08
5.52 -0.12 0.12 0.12 0.08
5.60 0.10 -0.13 -0.10 -0.09
5.68 -0.11 0.15 0.11 0.08
5.76 0.12 -0.14 -0.09 -0.08
5.84 -0.10 0.13 0.12 0.09
5.92 0.11 -0.12 -0.10 -0.08
6.00 -0.12 0.14 0.11 0.08
6.08 0.10 -0.15 -0.10 -0.09
6.16 -0.11 0.13 0.12 0.08
6.24 0.12 -0.12 -0.09 -0.08
6.32 -0.10 0.14 0.11 0.09
6.40 0.11 -0.13 -0.10 -0.08
6.48 -0.12 0.15 0.12 0.08
6.56 0.10 -0.12 -0.10 -0.09
6.64 -0.11 0.14 0.11 0.10
6.70 0.12 -0.15 -0.12 -0.12
6.74 -0.12 0.25 0.15 0.15
6.78 0.15 -0.25 -0.15 0.28
6.82 -0.15 0.20 0.15 -0.20
6.85 0.20 -0.15 -0.12 -0.28
6.89 -0.12 0.18 0.12 0.15
6.92 0.18 -0.20 -0.15 -0.15
6.95 -0.15 0.25 0.15 0.30
6.99 0.15 -0.20 -0.15 -0.25
7.03 -0.12 0.15 0.12 0.15
7.07 0.13 -0.15 -0.10 -0.12
7.12 -0.12 0.14 0.11 0.12
7.18 0.12 -0.13 -0.10 -0.10
7.24 -0.10 0.14 0.12 0.09
7.32 0.11 -0.12 -0.10 -0.08
7.40 -0.12 0.14 0.11 0.08
7.48 0.10 -0.13 -0.10 -0.09
7.56 -0.11 0.15 0.12 0.08
7.64 0.12 -0.12 -0.09 -0.08
7.72 -0.10 0.14 0.11 0.09
7.80 0.11 -0.13 -0.10 -0.08
7.88 -0.12 0.14 0.12 0.08
7.96 0.10 -0.12 -0.10 -0.09
8.04 -0.11 0.15 0.11 0.08
8.12 0.12 -0.13 -0.10 -0.06
}\dO

\pgfplotstableread{
t r o g b
3.48 0.10 -0.14 -0.10 0.08
3.56 -0.11 0.13 0.11 -0.09
3.64 0.12 -0.15 -0.12 0.08
3.72 -0.10 0.12 0.10 -0.08
3.80 0.11 -0.14 -0.11 0.09
3.88 -0.12 0.13 0.12 -0.08
3.96 0.10 -0.15 -0.10 0.08
4.04 -0.11 0.16 0.11 -0.09
4.09 0.12 -0.20 -0.12 0.12
4.13 -0.15 0.25 0.15 -0.12
4.17 0.15 -0.15 -0.12 0.15
4.21 -0.15 0.20 0.12 -0.28
4.25 0.18 -0.15 -0.12 0.18
4.29 -0.15 0.18 0.12 -0.12
4.33 0.15 -0.15 -0.10 0.18
4.37 -0.15 0.15 0.12 -0.25
4.42 0.15 -0.15 -0.10 0.15
4.47 -0.12 0.16 0.11 -0.12
4.52 0.12 -0.15 -0.10 0.12
4.58 -0.12 0.16 0.11 -0.10
4.64 0.12 -0.13 -0.10 0.09
4.72 -0.11 0.18 0.12 -0.08
4.80 0.12 -0.15 -0.10 0.08
4.88 -0.10 0.20 0.11 -0.09
4.96 0.11 -0.14 -0.10 0.08
5.04 -0.12 0.15 0.12 -0.08
5.12 0.10 -0.13 -0.10 0.09
5.20 -0.11 0.14 0.11 -0.08
5.28 0.12 -0.12 -0.12 0.08
5.36 -0.10 0.15 0.10 -0.09
5.44 0.11 -0.13 -0.11 0.08
5.52 -0.12 0.14 0.12 -0.08
5.60 0.10 -0.12 -0.10 0.09
5.68 -0.11 0.14 0.11 -0.08
5.76 0.12 -0.16 -0.10 0.08
5.84 -0.10 0.13 0.12 -0.09
5.92 0.11 -0.12 -0.10 0.08
6.00 -0.12 0.14 0.11 -0.08
6.08 0.10 -0.13 -0.10 0.09
6.16 -0.11 0.15 0.12 -0.08
6.24 0.12 -0.12 -0.10 0.08
6.32 -0.10 0.14 0.11 -0.09
6.40 0.11 -0.13 -0.10 0.08
6.48 -0.12 0.15 0.12 -0.08
6.56 0.10 -0.12 -0.10 0.09
6.64 -0.12 0.16 0.12 -0.12
6.68 0.15 -0.15 -0.12 0.15
6.72 -0.15 0.20 0.15 -0.18
6.75 0.20 0.48 -0.15 0.20
6.78 -0.20 -0.25 0.15 0.38
6.81 0.25 0.30 -0.15 -0.38
6.84 -0.20 -0.20 0.15 0.20
6.87 0.20 0.25 -0.15 -0.25
6.90 -0.20 0.15 0.12 0.40
6.93 0.15 -0.45 -0.15 -0.35
6.96 -0.15 0.20 0.12 0.15
7.00 0.30 -0.20 -0.12 0.25
7.04 -0.15 0.15 0.12 -0.15
7.08 0.15 -0.18 -0.12 0.15
7.12 -0.12 0.15 0.10 -0.22
7.17 0.12 -0.14 -0.10 0.12
7.22 -0.12 0.13 0.11 -0.10
7.28 0.11 -0.14 -0.10 0.09
7.36 -0.10 0.13 0.12 -0.08
7.44 0.12 -0.15 -0.10 0.08
7.52 -0.11 0.14 0.11 -0.09
7.60 0.10 -0.12 -0.10 0.08
7.68 -0.12 0.13 0.12 -0.08
7.76 0.11 -0.15 -0.10 0.09
7.84 -0.10 0.14 0.11 -0.08
7.92 0.12 -0.13 -0.10 0.08
8.00 -0.11 0.14 0.12 -0.09
8.08 0.10 -0.12 -0.10 0.08
8.14 -0.09 0.13 0.11 -0.05
}\dP

\begin{document}
\begin{tikzpicture}
\useasboundingbox (0,0) rectangle (35,-50.18);

% ===================== panel A =====================
\begin{axis}[rowA, at={(2.60cm,-6.77cm)}, anchor=south west, yl=-0.293]
\sh{0.41}{1.047}{-0.272}{0.335}\sh{1.547}{2.25}{-0.272}{0.335}
\tr{\dA}
\end{axis}
\begin{axis}[rowA, at={(10.95cm,-6.77cm)}, anchor=south west]
\sh{0.39}{1.03}{-0.272}{0.335}\dsh{1.54}{2.25}{-0.272}{0.335}
\tr{\dB}
\end{axis}
\begin{axis}[rowA, at={(19.35cm,-6.77cm)}, anchor=south west]
\dsh{0.40}{1.05}{-0.272}{0.335}\sh{1.55}{2.24}{-0.272}{0.335}
\tr{\dC}
\end{axis}

\begin{axis}[rowB, at={(2.60cm,-14.06cm)}, anchor=south west, yl=-0.29]
\sh{6.414}{6.737}{-0.86}{1.18}\sh{6.948}{7.225}{-0.86}{1.18}
\tr{\dD}
\end{axis}
\begin{axis}[rowB, at={(10.98cm,-14.06cm)}, anchor=south west]
\sh{6.41}{6.73}{-0.86}{1.18}\dsh{6.94}{7.22}{-0.86}{1.18}
\tr{\dE}
\end{axis}
\begin{axis}[rowB, at={(19.35cm,-14.06cm)}, anchor=south west]
\dsh{6.40}{6.73}{-0.86}{1.18}\sh{6.95}{7.23}{-0.86}{1.18}
\tr{\dF}
\end{axis}

% ===================== panel B =====================
\begin{axis}[at={(13.89cm,-24.88cm)}, anchor=south west, scale only axis,
  width=7.15cm, height=7.97cm, xmin=0, xmax=100, ymin=-0.72, ymax=2.3,
  axis lines=left, axis line style={-, line width=1.9pt},
  tick style={black, line width=1.7pt}, tick align=outside, major tick length=0.14cm,
  /pgf/number format/assume math mode=true,
  xtick={0,20,40,60,80,100}, xticklabels={0,20,40,60,80,100}, ytick={0,1,2},
  yticklabels={ArcLight,Bongwoori-R3,Bongwoori-Pos6},
  tick label style={font=\tickf}, yticklabel style={font=\labf},
  xlabel={Percent}, label style={font=\labf}, xlabel style={yshift=0.08cm},
  clip=false, axis on top]
\addplot[xbar, bar width=1.37cm, fill=barg, draw=none] coordinates {(12.5,2) (26.67,1) (100,0)};
\addplot[black, line width=2.2pt] coordinates {(0,2.26) (100,2.26)};
\addplot[black, line width=2.2pt] coordinates {(0,1.74) (100,1.74)};
\addplot[black, line width=2.2pt] coordinates {(0,1.26) (100,1.26)};
\addplot[black, line width=2.2pt] coordinates {(0,0.74) (100,0.74)};
\addplot[black, line width=2.2pt] coordinates {(0,0.26) (100,0.26)};
\addplot[black, line width=2.2pt] coordinates {(0,-0.26) (100,-0.26)};
\node[anchor=west, inner sep=1pt, font=\labf] at (axis cs:3.4,1.57) {3/24};
\node[anchor=east, inner sep=1pt, font=\labf] at (axis cs:96.9,1.57) {21/24};
\node[anchor=west, inner sep=1pt, font=\labf] at (axis cs:3.4,0.565) {4/15};
\node[anchor=east, inner sep=1pt, font=\labf] at (axis cs:96.9,0.565) {11/15};
\node[anchor=west, inner sep=1pt, font=\labf] at (axis cs:3.4,-0.425) {4/4};
\node[anchor=east, inner sep=1pt, font=\labf] at (axis cs:96.9,-0.425) {0/4};
\end{axis}

% ===================== panel C =====================
\begin{axis}[rowC, at={(2.42cm,-33.80cm)}, anchor=south west, yl=-0.272]
\sh{0.03}{0.43}{-0.916}{0.866}\sh{0.76}{1.28}{-0.916}{0.866}\sh{2.89}{3.84}{-0.916}{0.866}
\tr{\dG}
\end{axis}
\begin{axis}[rowC, at={(10.86cm,-33.80cm)}, anchor=south west]
\sh{0.0}{0.43}{-0.916}{0.866}\dsh{0.72}{1.30}{-0.916}{0.866}\dsh{2.86}{3.87}{-0.916}{0.866}
\tr{\dH}
\end{axis}
\begin{axis}[rowC, at={(19.25cm,-33.80cm)}, anchor=south west]
\dsh{0.0}{0.43}{-0.916}{0.866}\sh{0.76}{1.28}{-0.916}{0.866}\dsh{2.90}{3.87}{-0.916}{0.866}
\tr{\dI}
\end{axis}
\begin{axis}[rowC, at={(27.54cm,-33.80cm)}, anchor=south west]
\dsh{0.0}{0.43}{-0.916}{0.866}\dsh{0.76}{1.30}{-0.916}{0.866}\sh{2.90}{3.84}{-0.916}{0.866}
\tr{\dJ}
\end{axis}

\begin{axis}[rowD, at={(2.41cm,-40.79cm)}, anchor=south west, yl=-0.275]
\sh{5.98}{6.54}{-1.29}{1.12}\sh{6.84}{7.66}{-1.29}{1.12}
\tr{\dK}
\end{axis}
\begin{axis}[rowD, at={(10.78cm,-40.79cm)}, anchor=south west]
\sh{5.96}{6.53}{-1.29}{1.12}\dsh{6.84}{7.69}{-1.29}{1.12}
\tr{\dL}
\end{axis}
\begin{axis}[rowD, at={(19.16cm,-40.79cm)}, anchor=south west]
\dsh{5.95}{6.53}{-1.29}{1.12}\sh{6.89}{7.72}{-1.29}{1.12}
\tr{\dM}
\end{axis}

\begin{axis}[rowE, at={(2.41cm,-48.20cm)}, anchor=south west, yl=-0.275]
\sh{4.06}{5.29}{-0.524}{0.51}\sh{6.61}{7.55}{-0.524}{0.51}
\tr{\dN}
\end{axis}
\begin{axis}[rowE, at={(10.78cm,-48.20cm)}, anchor=south west]
\sh{4.05}{5.28}{-0.524}{0.51}\dsh{6.58}{7.56}{-0.524}{0.51}
\tr{\dO}
\end{axis}
\begin{axis}[rowE, at={(19.16cm,-48.20cm)}, anchor=south west]
\dsh{4.08}{5.33}{-0.524}{0.51}\sh{6.68}{7.61}{-0.524}{0.51}
\tr{\dP}
\end{axis}

% ===================== titles and callouts =====================
\node[font=\panf] at (0.57,-0.81) {A};
\node[font=\panf] at (6.14,-17.22) {B};
\node[font=\panf] at (0.70,-28.30) {C};

\node[font=\labf] at (6.31,-0.87) {All oscillations};
\node[font=\labf] at (15.31,-0.84) {First oscillation};
\node[font=\labf] at (23.02,-0.84) {Second oscillation};
\node[font=\labf] at (18.03,-2.06) {Bongwoori-Pos6};
\node[font=\labf] at (18.03,-9.38) {Bongwoori-R3};
\draw[line width=0.12cm] (4.40,-2.64) -- (6.17,-1.24) -- (7.72,-2.64);
\draw[line width=0.12cm] (14.45,-1.25) -- (12.69,-2.66);
\draw[line width=0.12cm] (22.91,-1.25) -- (24.46,-2.66);

\node[font=\labf] at (5.90,-27.89) {All oscillations};
\node[font=\labf] at (15.09,-27.89) {First oscillation};
\node[font=\labf] at (22.83,-27.89) {Second oscillation};
\node[font=\labf] at (31.45,-27.89) {Third oscillation};
\node[font=\labf] at (18.24,-29.18) {Bongwoori-Pos6};
\node[font=\labf] at (18.24,-35.98) {Bongwoori-R3};
\node[font=\labf] at (18.24,-43.38) {ArcLight};
\draw[line width=0.12cm] (2.77,-29.85) -- (5.71,-28.38) -- (7.40,-29.85);
\draw[line width=0.12cm] (3.95,-29.85) -- (5.71,-28.38);
\draw[line width=0.12cm] (14.15,-28.42) -- (11.20,-29.83);
\draw[line width=0.12cm] (22.45,-28.41) -- (20.71,-29.85);
\draw[line width=0.12cm] (30.91,-28.41) -- (32.53,-29.85);

% ===================== frames =====================
\draw[frG, line width=0.21cm] (0.11,-0.11) -- (34.89,-0.11) -- (34.89,-15.25) -- (21.06,-16.90)
  -- (21.06,-22.17) -- (15.94,-20.84) -- (15.94,-19.58) -- (14.94,-18.31) -- (14.94,-16.88)
  -- (13.89,-16.88) -- (0.11,-15.25) -- cycle;
\draw[frR, line width=0.25cm] (0.12,-27.65) -- (13.89,-23.61) -- (13.89,-16.90) -- (14.70,-16.90)
  -- (14.70,-18.31) -- (15.75,-19.65) -- (15.75,-20.98) -- (21.06,-22.28) -- (21.06,-23.61)
  -- (34.87,-27.65) -- (34.87,-49.94) -- (0.12,-49.94) -- cycle;
\end{tikzpicture}
\end{document}
